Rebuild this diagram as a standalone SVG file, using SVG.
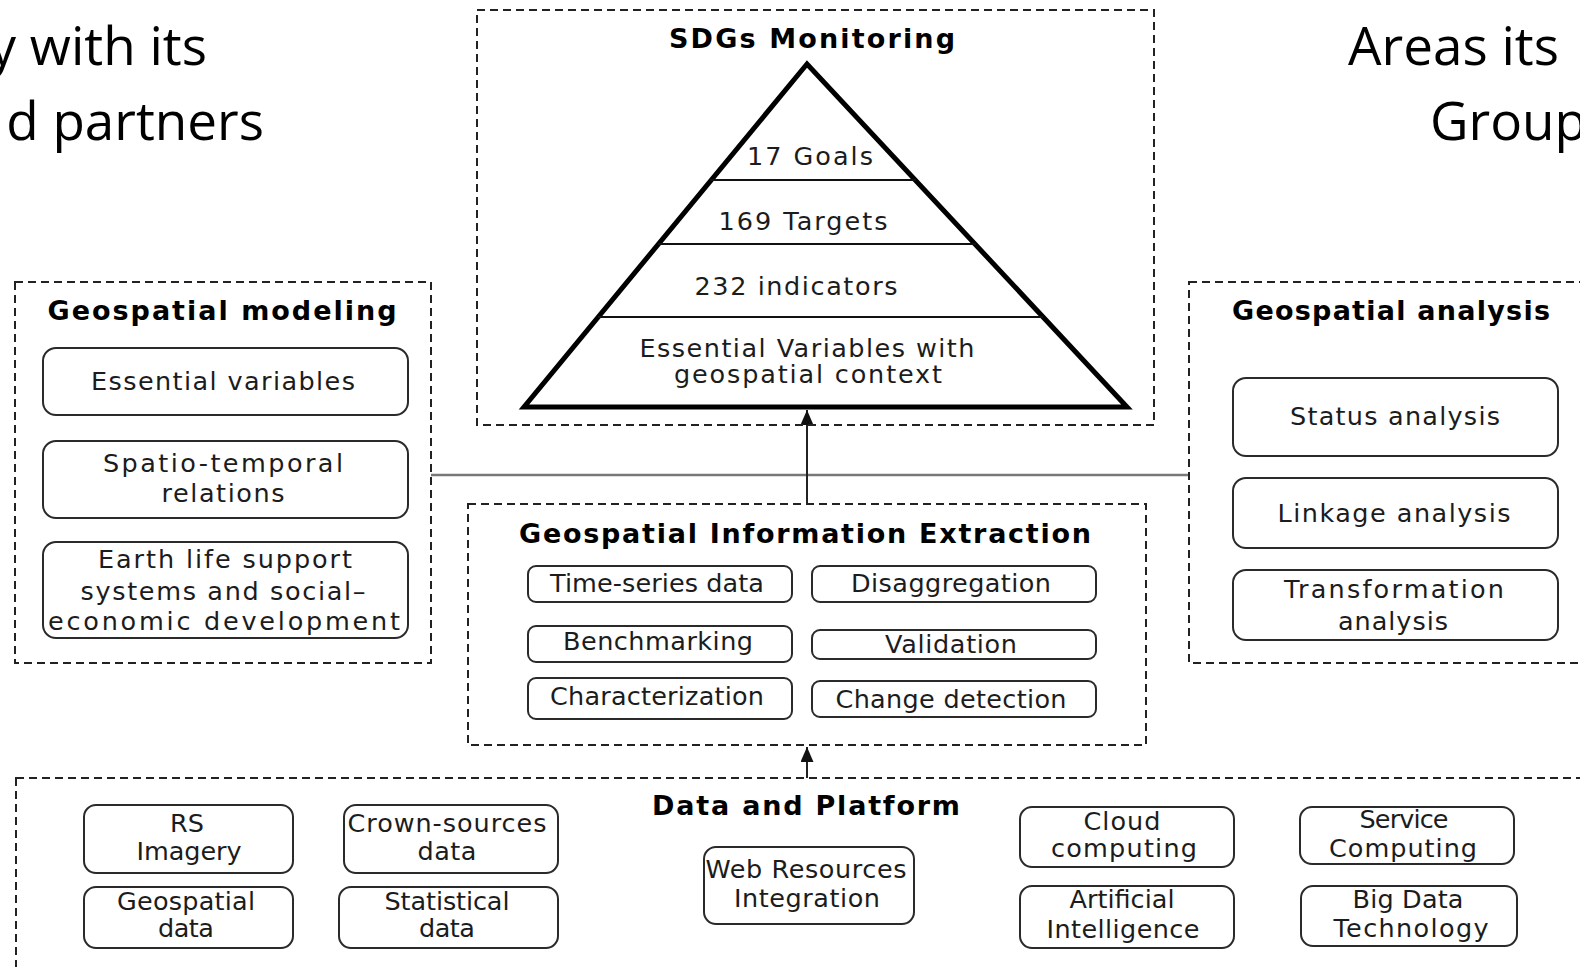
<svg xmlns="http://www.w3.org/2000/svg" width="1580" height="967" viewBox="0 0 1580 967">
<style>
text{font-family:"DejaVu Sans","Noto Sans","Liberation Sans",sans-serif;fill:#1c1c1c}
.big{font-family:"Open Sans","Noto Sans",sans-serif;font-size:53px;fill:#000}
.b{font-size:27px;font-weight:bold;text-anchor:middle;fill:#000}
.t{font-size:25.5px;text-anchor:middle}
.dash{fill:none;stroke:#222;stroke-width:2;stroke-dasharray:8 5}
.box{fill:#fff;stroke:#2a2a2a;stroke-width:2}
.conn{stroke:#222;stroke-width:2;fill:none}
</style>
<defs>
<marker id="ah" markerUnits="userSpaceOnUse" markerWidth="16" markerHeight="14" refX="15" refY="6.5" orient="auto">
<path d="M0,0 L15,6.5 L0,13 z" fill="#111"/>
</marker>
</defs>
<rect width="1580" height="967" fill="#fff"/>

<g id="side-text">
<text class="big" x="207" y="65" text-anchor="end">y with its</text>
<text class="big" x="264" y="140" text-anchor="end">d partners</text>
<text class="big" x="1348" y="65">Areas its</text>
<text class="big" x="1430" y="140">Group</text>
</g>

<g id="connectors">
<line x1="431" y1="475" x2="1189" y2="475" stroke="#777" stroke-width="2.5"/>
<line class="conn" x1="807" y1="505" x2="807" y2="410" marker-end="url(#ah)"/>
<line class="conn" x1="807" y1="778" x2="807" y2="747" marker-end="url(#ah)"/>
</g>

<g id="sdgs">
<rect class="dash" x="477" y="10" width="677" height="415"/>
<text class="b" x="812" y="48" textLength="286">SDGs Monitoring</text>
<polygon points="807,64 524,407 1127,407" fill="#fff" stroke="#000" stroke-width="5" stroke-linejoin="miter"/>
<line x1="710" y1="180" x2="916" y2="180" stroke="#111" stroke-width="2"/>
<line x1="658" y1="244" x2="976" y2="244" stroke="#111" stroke-width="2"/>
<line x1="598" y1="317" x2="1043" y2="317" stroke="#111" stroke-width="2"/>
<text class="t" x="810" y="165" textLength="126">17 Goals</text>
<text class="t" x="803" y="230" textLength="169">169 Targets</text>
<text class="t" x="796" y="295" textLength="203">232 indicators</text>
<text class="t" x="807" y="357" textLength="335">Essential Variables with</text>
<text class="t" x="808" y="383" textLength="268">geospatial context</text>
</g>

<g id="geospatial-modeling">
<rect class="dash" x="15" y="282" width="416" height="381"/>
<text class="b" x="222" y="320" textLength="349">Geospatial modeling</text>
<rect class="box" x="43" y="348" width="365" height="67" rx="13"/>
<text class="t" x="223" y="390" textLength="264">Essential variables</text>
<rect class="box" x="43" y="441" width="365" height="77" rx="13"/>
<text class="t" x="223" y="472" textLength="240">Spatio-temporal</text>
<text class="t" x="223" y="502" textLength="123">relations</text>
<rect class="box" x="43" y="542" width="365" height="96" rx="13"/>
<text class="t" x="225" y="568" textLength="254">Earth life support</text>
<text class="t" x="223" y="600" textLength="285">systems and social–</text>
<text class="t" x="224" y="630" textLength="352">economic development</text>
</g>

<g id="geospatial-analysis">
<rect class="dash" x="1189" y="282" width="420" height="381"/>
<text class="b" x="1391" y="320" textLength="318">Geospatial analysis</text>
<rect class="box" x="1233" y="378" width="325" height="78" rx="13"/>
<text class="t" x="1395" y="425" textLength="210">Status analysis</text>
<rect class="box" x="1233" y="478" width="325" height="70" rx="13"/>
<text class="t" x="1394" y="522" textLength="233">Linkage analysis</text>
<rect class="box" x="1233" y="570" width="325" height="70" rx="13"/>
<text class="t" x="1394" y="598" textLength="220">Transformation</text>
<text class="t" x="1393" y="630" textLength="110">analysis</text>
</g>

<g id="information-extraction">
<rect class="dash" x="468" y="504" width="678" height="241" fill="#fff"/>
<text class="b" x="805" y="543" textLength="572">Geospatial Information Extraction</text>
<rect class="box" x="528" y="566" width="264" height="36" rx="8"/>
<text class="t" x="657" y="592" textLength="214">Time-series data</text>
<rect class="box" x="812" y="566" width="284" height="36" rx="8"/>
<text class="t" x="951" y="592" textLength="200">Disaggregation</text>
<rect class="box" x="528" y="626" width="264" height="36" rx="8"/>
<text class="t" x="658" y="650" textLength="190">Benchmarking</text>
<rect class="box" x="812" y="630" width="284" height="29" rx="8"/>
<text class="t" x="951" y="653" textLength="132">Validation</text>
<rect class="box" x="528" y="678" width="264" height="41" rx="8"/>
<text class="t" x="657" y="705" textLength="214">Characterization</text>
<rect class="box" x="812" y="681" width="284" height="36" rx="8"/>
<text class="t" x="951" y="708" textLength="231">Change detection</text>
</g>

<g id="data-platform">
<rect class="dash" x="16" y="778" width="1600" height="250"/>
<text class="b" x="806" y="815" textLength="308">Data and Platform</text>
<rect class="box" x="84" y="805" width="209" height="68" rx="12"/>
<text class="t" x="187" y="832">RS</text>
<text class="t" x="189" y="860" textLength="105">Imagery</text>
<rect class="box" x="344" y="805" width="214" height="68" rx="12"/>
<text class="t" x="447" y="832" textLength="199">Crown-sources</text>
<text class="t" x="447" y="860" textLength="59">data</text>
<rect class="box" x="84" y="887" width="209" height="61" rx="12"/>
<text class="t" x="186" y="910" textLength="138">Geospatial</text>
<text class="t" x="186" y="937" textLength="56">data</text>
<rect class="box" x="339" y="887" width="219" height="61" rx="12"/>
<text class="t" x="447" y="910" textLength="125">Statistical</text>
<text class="t" x="447" y="937" textLength="56">data</text>
<rect class="box" x="704" y="847" width="210" height="77" rx="12"/>
<text class="t" x="806" y="878" textLength="201">Web Resources</text>
<text class="t" x="807" y="907" textLength="146">Integration</text>
<rect class="box" x="1020" y="807" width="214" height="60" rx="12"/>
<text class="t" x="1122" y="830" textLength="77">Cloud</text>
<text class="t" x="1124" y="857" textLength="146">computing</text>
<rect class="box" x="1300" y="807" width="214" height="57" rx="12"/>
<text class="t" x="1404" y="828" textLength="89">Service</text>
<text class="t" x="1403" y="857" textLength="148">Computing</text>
<rect class="box" x="1020" y="886" width="214" height="62" rx="12"/>
<text class="t" x="1122" y="908" textLength="105">Artificial</text>
<text class="t" x="1123" y="938" textLength="153">Intelligence</text>
<rect class="box" x="1301" y="886" width="216" height="60" rx="12"/>
<text class="t" x="1408" y="908" textLength="111">Big Data</text>
<text class="t" x="1411" y="937" textLength="155">Technology</text>
</g>
</svg>
